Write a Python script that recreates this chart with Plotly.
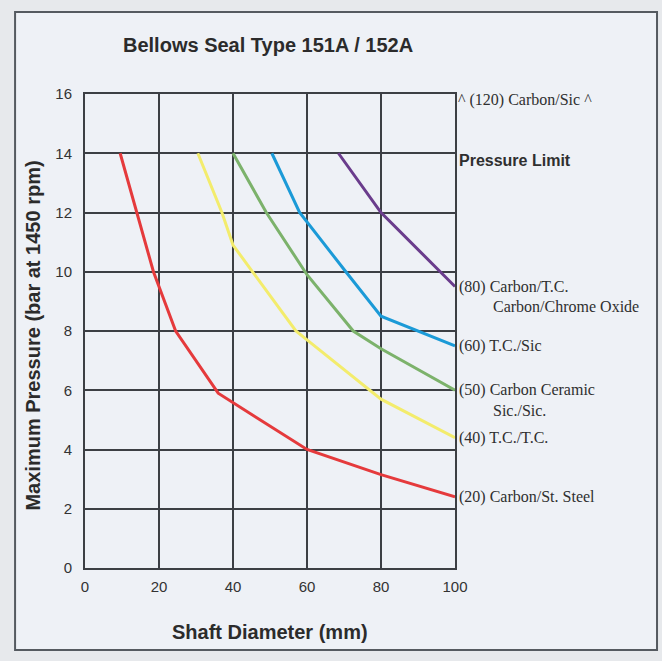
import plotly.graph_objects as go

# ---- data ----
red_x = [9.5, 18.5, 24.5, 36, 60, 80, 100]
red_y = [14, 10, 8, 5.9, 4, 3.15, 2.4]

yellow_x = [30.5, 37, 40, 57, 60, 80, 100]
yellow_y = [14, 12, 10.9, 8, 7.7, 5.7, 4.4]

green_x = [40, 49, 60, 72.5, 80, 100]
green_y = [14, 12, 9.9, 8, 7.4, 6]

blue_x = [50.5, 58, 70.5, 80, 100]
blue_y = [14, 12, 10, 8.5, 7.5]

purple_x = [68.5, 80, 100]
purple_y = [14, 12, 9.5]

series_names = ["(20) Carbon/St. Steel", "(40) T.C./T.C.", "(50) Carbon Ceramic",
                "(60) T.C./Sic", "(80) Carbon/T.C."]
second_lines = ["", "", "Sic./Sic.", "", "Carbon/Chrome Oxide"]
colors = ["#e53a3c", "#f3ec6c", "#7cb26b", "#1b9ad7", "#6a3c8c"]

x_ticks = [0, 20, 40, 60, 80, 100]
y_ticks = [0, 2, 4, 6, 8, 10, 12, 14, 16]

title_text = "Bellows Seal Type 151A / 152A"
x_title = "Shaft Diameter (mm)"
y_title = "Maximum Pressure (bar at 1450 rpm)"
top_label = "^ (120) Carbon/Sic ^"
limit_label = "Pressure Limit"

xs = [red_x, yellow_x, green_x, blue_x, purple_x]
ys = [red_y, yellow_y, green_y, blue_y, purple_y]

fig = go.Figure()
for x, y, c, n in zip(xs, ys, colors, series_names):
    fig.add_trace(go.Scatter(x=x, y=y, mode="lines", name=n,
                             line=dict(color=c, width=3), showlegend=False))

serif = "Liberation Serif, Times New Roman, serif"
sans = "Liberation Sans, Arial, Helvetica, sans-serif"
label_font = dict(family=serif, size=16, color="#2f2f2f")

annotations = []
for x, y, n, s2 in zip(xs, ys, series_names, second_lines):
    annotations.append(dict(x=x[-1], y=y[-1], xref="x", yref="y", text=n,
                            showarrow=False, xanchor="left", yanchor="middle",
                            xshift=2, font=label_font))
    if s2:
        annotations.append(dict(x=x[-1], y=y[-1], xref="x", yref="y", text=s2,
                                showarrow=False, xanchor="left", yanchor="middle",
                                xshift=36, yshift=-20, font=label_font))

annotations.append(dict(x=100, y=16, xref="x", yref="y", text=top_label, showarrow=False,
                        xanchor="left", yanchor="middle", xshift=1, yshift=-6,
                        font=label_font))
annotations.append(dict(x=100, y=14, xref="x", yref="y", text="<b>" + limit_label + "</b>",
                        showarrow=False, xanchor="left", yanchor="middle", xshift=2, yshift=-7,
                        font=dict(family=sans, size=16, color="#2f2f2f")))
annotations.append(dict(x=0.495, y=1.103, xref="paper", yref="paper",
                        text="<b>" + title_text + "</b>", showarrow=False,
                        xanchor="center", yanchor="middle",
                        font=dict(family=sans, size=20, color="#2b2b2b")))
annotations.append(dict(x=0.5, y=-0.135, xref="paper", yref="paper",
                        text="<b>" + x_title + "</b>", showarrow=False,
                        xanchor="center", yanchor="middle",
                        font=dict(family=sans, size=20, color="#2b2b2b")))
annotations.append(dict(x=-0.141, y=0.49, xref="paper", yref="paper",
                        text="<b>" + y_title + "</b>", showarrow=False, textangle=-90,
                        xanchor="center", yanchor="middle",
                        font=dict(family=sans, size=20, color="#2b2b2b")))

frame = dict(type="rect", xref="paper", yref="paper",
             x0=-0.189, x1=1.546, y0=-0.173, y1=1.173,
             fillcolor="#eef1f6", line=dict(color="#555a60", width=2), layer="below")

axis_common = dict(showline=True, mirror=True, linecolor="#3c3f44", linewidth=2,
                   showgrid=True, gridcolor="#3c3f44", gridwidth=2, zeroline=False,
                   ticks="", tickfont=dict(family=sans, size=15, color="#333333"),
                   fixedrange=True)

fig.update_layout(
    width=662, height=661, autosize=False,
    margin=dict(l=85, r=207, t=94, b=93),
    paper_bgcolor="#e7e9ec", plot_bgcolor="#eef1f6",
    xaxis=dict(range=[0, 100], tickvals=x_ticks, ticklabelstandoff=4, **axis_common),
    yaxis=dict(range=[0, 16], tickvals=y_ticks, ticklabelstandoff=8, **axis_common),
    annotations=annotations, shapes=[frame],
)

fig.write_html("out.html", config={"displayModeBar": False},
               post_script="document.body.style.margin='0';document.body.style.overflow='hidden';")
